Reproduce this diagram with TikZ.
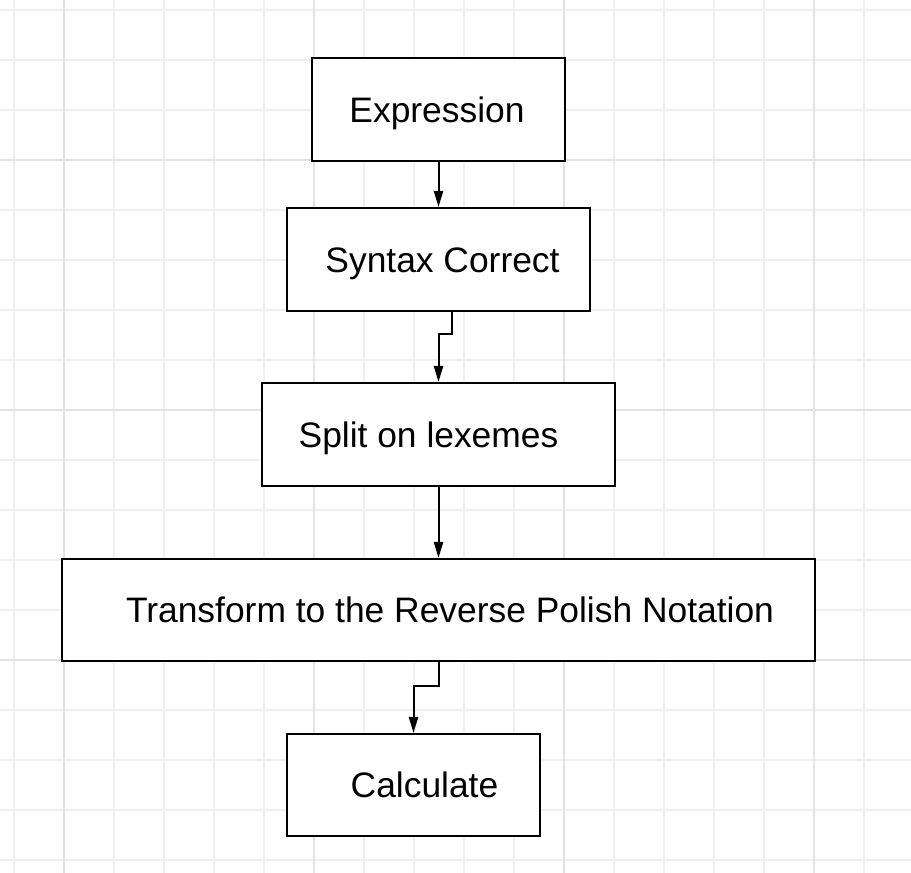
\documentclass[tikz,border=0pt]{standalone}
\usepackage{fontspec}
\setmainfont{Liberation Sans}
\usetikzlibrary{arrows.meta}
\definecolor{gridminor}{HTML}{EFEFEF}
\definecolor{gridmajor}{HTML}{E2E2E2}
\begin{document}
\begin{tikzpicture}[x=0.5pt,y=-0.5pt,
  box/.style={draw=black, line width=1.1pt, fill=white, inner sep=0pt, anchor=center},
  conn/.style={draw=black, line width=1pt, -{Triangle[length=8pt,width=4.6pt]}},
  lbl/.style={font=\fontsize{17.7}{20}\selectfont, inner sep=0pt, anchor=base},
  gmin/.style={draw=gridminor, line width=0.8pt},
  gmaj/.style={draw=gridmajor, line width=0.8pt}]
\useasboundingbox (0,0) rectangle (911,873);
% grid
\foreach \x in {14,64,...,910} \draw[gmin] (\x,0) -- (\x,873);
\foreach \y in {10,60,...,872} \draw[gmin] (0,\y) -- (911,\y);
\foreach \x in {64,314,564,814} \draw[gmaj] (\x,0) -- (\x,873);
\foreach \y in {160,410,660} \draw[gmaj] (0,\y) -- (911,\y);
% boxes
\node[box, minimum width=126.5pt, minimum height=51.5pt] (e) at (438.5,109.5) {};
\node[box, minimum width=151.5pt, minimum height=51.5pt] (s) at (438.5,259.5) {};
\node[box, minimum width=176.5pt, minimum height=51.5pt] (sp) at (438.5,434.5) {};
\node[box, minimum width=376.5pt, minimum height=51pt] (t) at (438.5,610) {};
\node[box, minimum width=126.5pt, minimum height=51pt] (c) at (413.5,785) {};
% labels
\node[lbl] (el) at (437,122) {Expression};
\node[lbl] (sl) at (442.5,272.5) {Syntax Correct};
\node[lbl] (spl) at (428.5,447.5) {Split on lexemes};
\node[lbl] (tl) at (450,622.5) {Transform to the Reverse Polish Notation};
\node[lbl] (cl) at (424.5,797.5) {Calculate};
% connectors
\draw[conn] (e.south) -- (s.north);
\draw[conn] ([xshift=6.5pt]s.south) -- ++(0,22) -| (sp.north);
\draw[conn] (sp.south) -- (t.north);
\draw[conn] ([xshift=0.25pt]t.south) -- ++(0,24) -| (c.north);
\end{tikzpicture}
\end{document}
